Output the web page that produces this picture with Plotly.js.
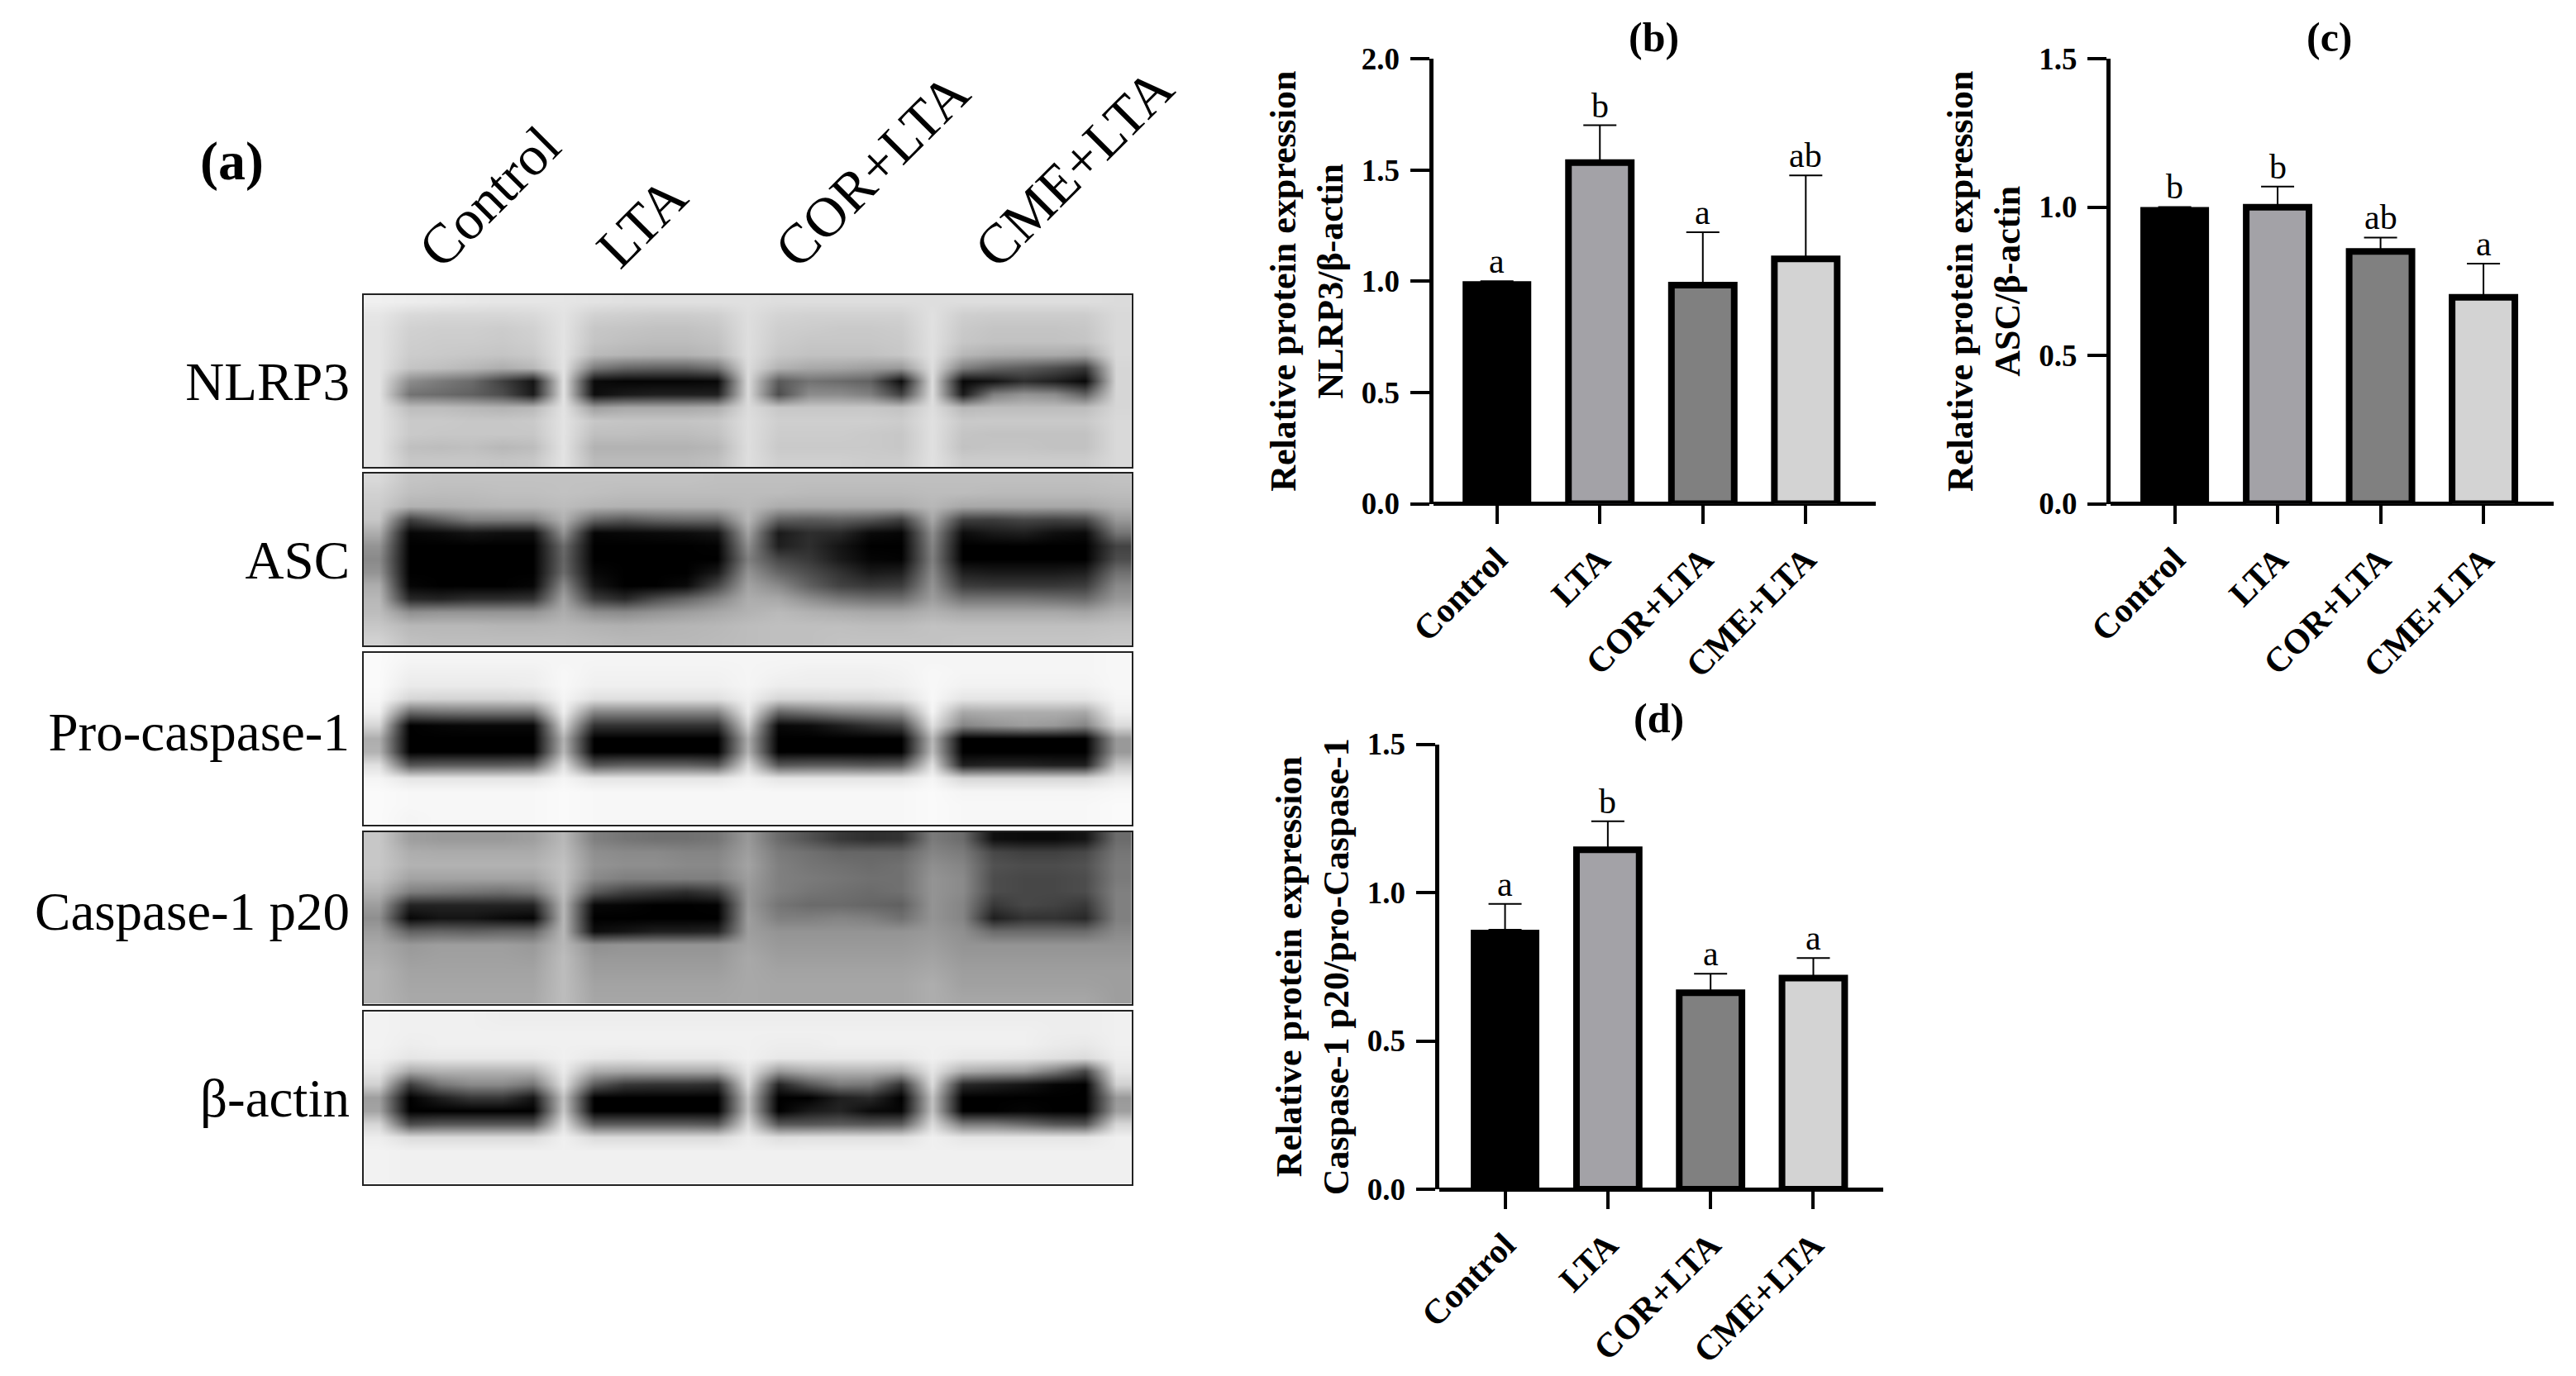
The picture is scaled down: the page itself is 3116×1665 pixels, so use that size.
<!DOCTYPE html>
<html>
<head>
<meta charset="utf-8">
<script src="https://cdn.plot.ly/plotly-3.0.1.min.js"></script>
<style>
    html, body { margin: 0; padding: 0; background: #fff; }
</style>
</head>
<body>
<div id="root"></div>
<script>
// bar panels, values
const groups = ['Control', 'LTA', 'COR+LTA', 'CME+LTA'];

const nlrp3Values = [1.0, 1.533, 0.982, 1.1];
const nlrp3Errors = [0, 0.168, 0.238, 0.375];
const nlrp3Letters = ['a', 'b', 'a', 'ab'];

const ascValues = [1.0, 0.999, 0.85, 0.696];
const ascErrors = [0, 0.07, 0.047, 0.113];
const ascLetters = ['b', 'b', 'ab', 'a'];

const caspValues = [0.875, 1.144, 0.662, 0.712];
const caspErrors = [0.087, 0.096, 0.064, 0.067];
const caspLetters = ['a', 'b', 'a', 'a'];

const barColors = ['#000000', '#a3a2a7', '#808080', '#d3d3d3'];

// blot panels: gray level in percent (0 black, 100 white), 13 rows x 25 columns
const blotNames = ['NLRP3', 'ASC', 'Pro-caspase-1', 'Caspase-1 p20', 'β-actin'];
const laneTicks = [1.4, 7.2, 13.0, 19.5];

const blotNlrp3 = [
    [94,93,92,91,90,90,90,89,88,88,88,88,88,87,87,87,87,87,87,87,87,87,87,87,86],
    [90,85,84,84,84,85,89,82,81,80,80,81,87,83,82,82,82,82,88,81,80,80,80,80,85],
    [89,82,81,81,80,82,89,78,77,76,76,78,87,81,80,79,79,80,88,79,77,77,77,78,85],
    [89,81,80,80,79,81,89,77,75,74,74,76,87,80,78,78,78,79,88,78,76,76,76,77,85],
    [89,80,79,78,77,79,89,73,71,70,70,73,87,78,76,76,76,78,88,72,68,67,67,65,85],
    [89,77,75,72,68,72,89,48,40,38,38,45,86,70,66,65,62,60,87,50,40,36,30,22,84],
    [89,55,48,42,25,8,89,4,2,2,2,3,86,35,45,42,38,5,87,3,8,18,12,3,84],
    [89,45,42,38,30,10,89,5,10,12,12,12,86,30,55,55,50,25,87,10,50,58,55,38,84],
    [89,74,74,72,70,72,89,62,66,66,66,68,86,78,78,78,78,76,87,72,74,74,74,74,84],
    [89,79,79,78,78,79,89,78,77,77,77,78,87,81,81,81,81,80,88,79,79,79,79,79,85],
    [89,79,78,78,78,78,89,75,75,74,74,76,87,80,80,80,79,78,88,77,76,76,76,76,85],
    [89,75,74,75,72,74,89,70,70,70,70,72,87,79,79,79,79,78,88,76,77,77,76,76,85],
    [89,78,78,78,77,78,89,73,73,73,73,75,87,81,81,81,80,80,88,80,80,80,80,80,85]
];

const blotAsc = [
    [85,77,76,76,76,76,76,76,76,76,76,75,75,75,75,75,75,75,75,75,75,75,75,75,76],
    [82,75,74,74,75,75,76,75,74,74,74,74,74,74,73,73,73,73,74,74,73,73,73,73,74],
    [80,70,70,71,72,72,74,71,70,70,70,70,73,68,68,68,68,68,72,66,66,66,66,66,70],
    [78,25,38,50,50,50,70,40,35,40,42,42,72,38,36,38,34,25,66,25,24,28,26,28,60],
    [68,2,4,8,6,6,58,2,3,4,5,8,64,10,18,16,4,2,56,5,10,12,6,4,46],
    [58,0,0,0,0,0,42,0,0,0,0,1,56,12,18,8,0,0,52,0,0,0,0,0,26],
    [54,0,0,0,0,0,40,0,0,0,0,0,50,28,22,10,2,1,50,0,0,0,0,0,30],
    [58,0,0,0,0,0,42,3,0,0,0,10,58,40,30,20,10,12,54,12,10,10,10,12,44],
    [68,2,0,0,0,2,55,8,0,0,4,28,64,54,38,26,22,24,58,24,22,22,22,24,54],
    [72,16,14,18,18,20,64,24,16,30,40,52,68,66,56,48,44,44,62,46,46,46,44,42,60],
    [74,56,58,58,58,58,68,56,54,58,62,66,70,73,70,68,66,66,70,66,66,66,66,64,70],
    [78,72,72,72,71,71,72,70,69,70,71,72,74,75,75,75,74,74,76,75,75,75,75,75,76],
    [82,75,74,74,74,74,74,73,72,72,72,73,74,75,75,76,76,76,76,77,77,77,77,77,78]
];

const blotPro = [
    [98,96,96,96,96,96,96,96,96,96,96,96,96,96,96,96,96,96,96,96,96,96,96,96,97],
    [98,94,94,94,94,94,97,95,95,95,95,95,96,95,94,94,94,95,97,96,96,96,96,96,97],
    [98,92,92,92,92,93,97,94,94,94,94,94,96,93,93,93,93,94,97,95,95,95,95,95,97],
    [97,84,83,83,83,84,96,88,88,88,88,88,94,84,84,85,85,88,97,90,90,90,90,90,96],
    [94,42,45,46,46,46,94,52,52,52,52,52,92,40,46,52,55,58,96,66,68,68,68,66,94],
    [84,0,2,3,3,3,84,20,20,20,20,20,82,3,5,12,20,26,88,52,58,62,60,52,86],
    [68,0,0,0,0,0,70,0,0,0,0,0,68,0,0,0,0,0,72,0,0,0,0,0,60],
    [70,0,0,0,0,0,72,0,0,0,0,0,70,0,0,0,0,0,74,0,0,0,0,0,60],
    [88,34,36,36,36,38,88,34,38,38,38,34,86,34,36,36,34,36,88,12,14,14,12,12,78],
    [96,90,90,90,90,90,96,90,90,90,90,90,95,90,90,90,90,90,96,84,84,84,84,84,92],
    [98,97,97,97,97,97,98,97,97,97,97,97,97,97,97,97,97,97,98,96,96,96,96,96,97],
    [98,97,97,97,97,97,98,97,97,97,97,97,97,97,97,97,97,97,98,97,97,97,97,97,98],
    [98,96,97,97,97,97,98,97,97,97,97,97,97,97,97,97,97,97,98,97,97,97,97,97,98]
];

const blotP20 = [
    [78,62,60,60,60,62,72,50,46,44,44,46,60,42,32,22,18,20,48,42,6,4,4,8,42],
    [78,68,67,67,67,67,74,56,54,54,52,52,62,48,44,40,40,40,52,48,28,25,25,28,46],
    [78,70,70,70,70,70,76,58,56,56,54,54,64,50,46,44,42,44,56,52,32,30,30,32,48],
    [76,64,64,64,64,64,76,54,50,50,50,50,62,50,48,46,44,44,58,54,30,28,28,30,48],
    [70,50,48,46,44,48,75,36,26,22,18,24,60,50,46,44,42,44,58,54,30,28,28,30,50],
    [62,14,14,14,14,14,72,3,2,0,0,1,60,46,42,42,40,38,58,52,22,28,26,22,50],
    [56,3,8,8,4,2,72,0,0,0,0,0,62,50,50,52,50,44,58,52,12,20,20,16,50],
    [62,38,40,38,40,40,72,5,8,12,12,14,62,58,58,58,58,58,60,56,42,42,42,42,54],
    [66,60,62,62,62,60,72,56,58,58,58,58,64,60,60,60,60,60,62,58,58,58,58,58,58],
    [68,62,63,63,63,62,74,60,60,60,60,60,66,62,62,62,62,62,64,60,60,60,60,60,60],
    [70,64,64,64,64,64,74,62,62,62,62,62,66,64,64,64,64,64,66,62,62,62,62,62,62],
    [70,65,65,65,65,65,74,64,64,64,64,64,66,65,65,65,65,65,68,63,63,63,63,63,62],
    [70,66,66,66,66,66,74,65,65,65,65,65,66,65,65,65,65,65,68,65,65,65,65,65,62]
];

const blotActin = [
    [95,94,94,94,93,93,93,93,93,93,93,93,93,93,93,93,93,93,93,93,93,93,93,93,94],
    [95,94,94,94,94,94,94,94,94,94,94,94,94,94,94,94,94,94,94,94,94,94,93,93,94],
    [95,93,94,94,94,94,94,94,94,94,94,94,94,93,93,94,94,94,94,94,94,94,92,91,94],
    [94,90,91,91,91,91,94,91,90,91,91,91,94,91,91,91,91,91,94,91,91,90,88,86,93],
    [90,66,70,70,70,70,92,68,66,66,66,66,90,60,68,70,70,66,90,68,64,62,48,28,90],
    [82,24,46,54,54,46,88,36,22,20,20,18,86,14,34,48,46,20,86,16,12,8,2,0,82],
    [62,0,12,22,22,8,76,0,0,0,0,0,76,0,0,12,16,0,76,0,0,0,0,0,60],
    [64,0,0,0,0,0,78,0,0,0,0,0,76,0,10,14,4,2,76,0,0,2,0,0,62],
    [84,30,34,34,34,34,88,36,36,36,36,34,86,34,34,36,34,36,86,48,48,42,34,32,84],
    [93,86,86,86,86,86,94,86,86,86,86,86,93,87,88,88,88,88,94,90,90,90,90,90,94],
    [95,94,94,94,94,94,94,94,94,94,94,94,94,94,94,94,94,94,94,94,94,94,94,94,94],
    [95,94,94,94,94,94,94,94,94,94,94,94,94,94,94,94,94,94,94,94,94,94,94,94,94],
    [95,94,94,94,94,94,94,94,94,94,94,94,94,94,94,94,94,94,94,94,94,94,94,94,94]
];

const blots = [blotNlrp3, blotAsc, blotPro, blotP20, blotActin];

const W = 3116;
const H = 1665;
const SERIF = '"Liberation Serif", "Times New Roman", serif';

window.onload = buildFigure;

function pxX(x) {
    return x / W;
}

function pxY(y) {
    return 1 - y / H;
}

function buildFigure() {
    const data = [];
    const layout = {
        width: W,
        height: H,
        margin: {l: 0, r: 0, t: 0, b: 0},
        paper_bgcolor: '#ffffff',
        plot_bgcolor: 'rgba(0,0,0,0)',
        showlegend: false,
        annotations: []
    };

    addBarPanel(data, layout, '', {
        values: nlrp3Values, errors: nlrp3Errors, letters: nlrp3Letters,
        box: [1733.5, 2269, 71, 609.5], xRange: [-0.62, 3.68], yRange: [0, 2],
        title: 'Relative protein expression<br>NLRP3/β-actin',
        panel: '(b)', panelAt: [2000, 45]
    });
    addBarPanel(data, layout, '2', {
        values: ascValues, errors: ascErrors, letters: ascLetters,
        box: [2553, 3088.5, 71, 609.5], xRange: [-0.623, 3.678], yRange: [0, 1.5],
        title: 'Relative protein expression<br>ASC/β-actin',
        panel: '(c)', panelAt: [2818, 45]
    });
    addBarPanel(data, layout, '3', {
        values: caspValues, errors: caspErrors, letters: caspLetters,
        box: [1740.5, 2278, 900.5, 1439], xRange: [-0.644, 3.68], yRange: [0, 1.5],
        title: 'Relative protein expression<br>Caspase-1 p20/pro-Caspase-1',
        panel: '(d)', panelAt: [2006, 869]
    });

    addBlots(data, layout);

    layout.annotations.push({
        text: '(a)', xref: 'paper', yref: 'paper', x: pxX(280), y: pxY(195),
        xanchor: 'center', yanchor: 'middle', showarrow: false,
        font: {family: SERIF, size: 66, weight: 'bold', color: '#000'}
    });

    Plotly.newPlot('root', data, layout, {displayModeBar: false, staticPlot: true});
}

function addBarPanel(data, layout, n, p) {
    const xName = 'xaxis' + n;
    const yName = 'yaxis' + n;
    const xRef = 'x' + n;
    const yRef = 'y' + n;

    data.push({
        type: 'bar',
        x: groups,
        y: p.values,
        width: [0.667, 0.61, 0.61, 0.61],
        xaxis: xRef,
        yaxis: yRef,
        marker: {
            color: barColors,
            line: {color: '#000000', width: [0, 8, 8, 8]}
        },
        error_y: {
            type: 'data',
            symmetric: false,
            array: p.errors,
            arrayminus: [0, 0, 0, 0],
            color: '#000000',
            thickness: 2,
            width: 20
        }
    });

    layout[xName] = {
        domain: [pxX(p.box[0]), pxX(p.box[1])],
        anchor: yRef,
        type: 'category',
        categoryorder: 'array',
        categoryarray: groups,
        range: p.xRange,
        showline: false,
        showgrid: false,
        zeroline: false,
        ticks: 'outside',
        ticklen: 23,
        tickwidth: 4,
        tickcolor: '#000',
        tickangle: -45,
        ticklabelstandoff: 2,
        tickfont: {family: SERIF, size: 42, weight: 'bold', color: '#000'}
    };

    layout[yName] = {
        domain: [pxY(p.box[3]), pxY(p.box[2])],
        anchor: xRef,
        range: p.yRange,
        dtick: 0.5,
        tickformat: '.1f',
        showline: true,
        linewidth: 5,
        linecolor: '#000',
        showgrid: false,
        zeroline: true,
        zerolinewidth: 5,
        zerolinecolor: '#000',
        ticks: 'outside',
        ticklen: 23,
        tickwidth: 4,
        tickcolor: '#000',
        ticklabelstandoff: 5,
        tickfont: {family: SERIF, size: 37, weight: 'bold', color: '#000'},
        title: {
            text: p.title,
            standoff: 10,
            font: {family: SERIF, size: 44, weight: 'bold', color: '#000'}
        }
    };

    // significance letters sit on top of the error bar cap
    groups.forEach(function (g, i) {
        layout.annotations.push({
            text: p.letters[i],
            xref: xRef,
            yref: yRef,
            x: g,
            y: p.values[i] + p.errors[i],
            xanchor: 'center',
            yanchor: 'bottom',
            yshift: 0,
            showarrow: false,
            borderpad: 0,
            font: {family: SERIF, size: 42, color: '#000'}
        });
    });

    layout.annotations.push({
        text: p.panel,
        xref: 'paper',
        yref: 'paper',
        x: pxX(p.panelAt[0]),
        y: pxY(p.panelAt[1]),
        xanchor: 'center',
        yanchor: 'middle',
        showarrow: false,
        font: {family: SERIF, size: 50, weight: 'bold', color: '#000'}
    });
}

function addBlots(data, layout) {
    const boxes = [[357, 565], [572.5, 781], [789.5, 997.7], [1006.8, 1214.5], [1224, 1432.6]];
    const nameRows = [6, 6, 5.5, 5.5, 6];

    blots.forEach(function (z, i) {
        const n = String(i + 4);

        data.push({
            type: 'heatmap',
            z: z,
            zmin: 0,
            zmax: 100,
            zsmooth: 'best',
            showscale: false,
            colorscale: [[0, '#000000'], [1, '#ffffff']],
            xaxis: 'x' + n,
            yaxis: 'y' + n
        });

        const xAxis = {
            domain: [pxX(440), pxX(1368.6)],
            anchor: 'y' + n,
            range: [-0.5, 24.5],
            showgrid: false,
            zeroline: false,
            showline: true,
            mirror: true,
            linewidth: 2,
            linecolor: '#222',
            ticks: '',
            showticklabels: false
        };

        // lane names only above the first blot
        if (i === 0) {
            xAxis.side = 'top';
            xAxis.showticklabels = true;
            xAxis.tickmode = 'array';
            xAxis.tickvals = laneTicks;
            xAxis.ticktext = groups;
            xAxis.tickangle = -45;
            xAxis.ticklabelstandoff = -10;
            xAxis.tickfont = {family: SERIF, size: 68, color: '#000'};
        }
        layout['xaxis' + n] = xAxis;

        layout['yaxis' + n] = {
            domain: [pxY(boxes[i][1]), pxY(boxes[i][0])],
            anchor: 'x' + n,
            range: [12.5, -0.5],
            showgrid: false,
            zeroline: false,
            showline: true,
            mirror: true,
            linewidth: 2,
            linecolor: '#222',
            ticks: '',
            tickmode: 'array',
            tickvals: [nameRows[i]],
            ticktext: [blotNames[i]],
            ticklabelstandoff: 2,
            tickfont: {family: SERIF, size: 65, color: '#000'}
        };
    });
}
</script>
</body>
</html>
